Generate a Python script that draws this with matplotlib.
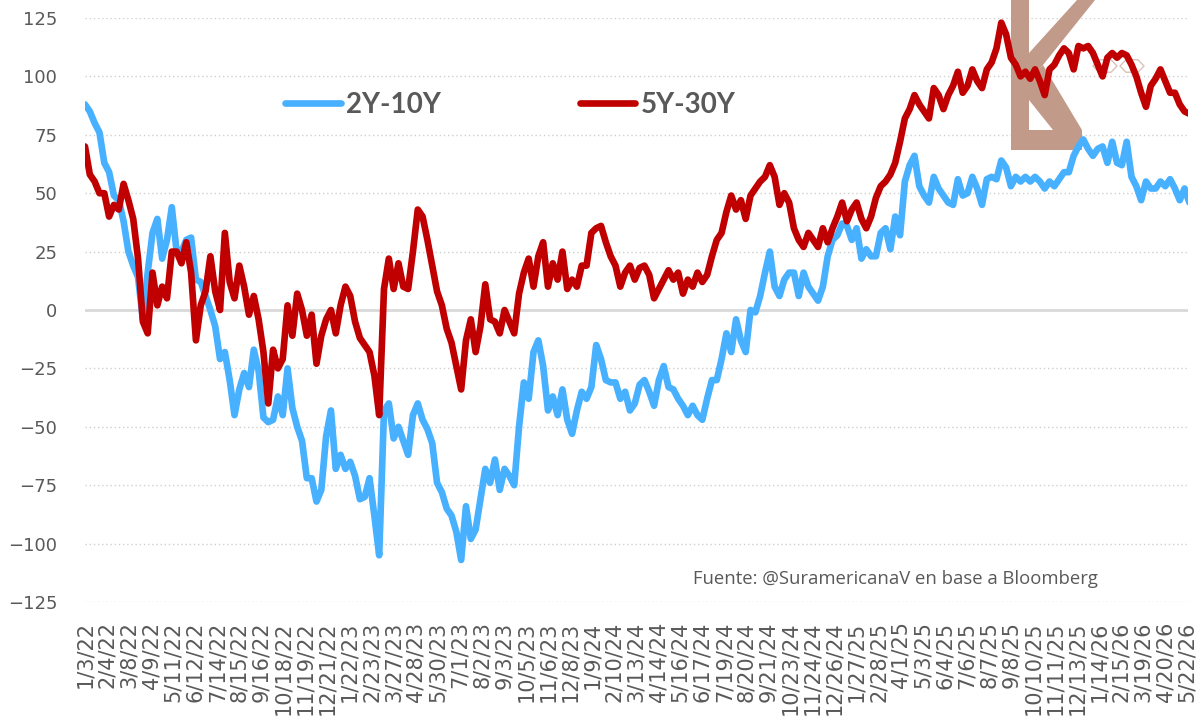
import matplotlib
matplotlib.use("Agg")
import matplotlib.pyplot as plt
import matplotlib.dates as mdates
from matplotlib.patches import Polygon, RegularPolygon
import numpy as np
import pandas as pd

# weekly readings (bp), starting Mon 1/3/22
start_date = "2022-01-03"
spread_2y10y = [
    88, 85, 80, 76, 63, 59, 49, 47, 38, 25,
    19, 14, -4, 16, 33, 39, 22, 30, 44, 25,
    25, 30, 31, 13, 12, 6, 0, -7, -21, -18,
    -30, -45, -34, -27, -33, -17, -26, -46, -48, -47,
    -37, -45, -25, -42, -50, -56, -72, -72, -82, -77,
    -54, -43, -68, -62, -68, -65, -71, -81, -80, -72,
    -88, -105, -43, -40, -55, -50, -56, -62, -45, -40,
    -47, -51, -57, -74, -78, -85, -88, -95, -107, -84,
    -98, -94, -81, -68, -74, -64, -77, -68, -71, -75,
    -50, -31, -38, -18, -13, -24, -43, -37, -45, -34,
    -47, -53, -43, -35, -38, -33, -15, -21, -30, -31,
    -31, -38, -35, -43, -40, -32, -30, -35, -41, -30,
    -24, -33, -34, -38, -41, -45, -41, -45, -47, -38,
    -30, -30, -21, -10, -18, -4, -13, -18, 0, -1,
    6, 16, 25, 10, 6, 13, 16, 16, 6, 16,
    10, 7, 4, 10, 23, 30, 32, 37, 36, 30,
    35, 22, 26, 23, 23, 33, 35, 26, 40, 32,
    55, 62, 66, 53, 49, 46, 57, 52, 49, 46,
    45, 56, 49, 50, 57, 52, 45, 56, 57, 56,
    64, 61, 53, 57, 55, 57, 55, 57, 55, 52,
    55, 53, 56, 59, 59, 66, 70, 73, 69, 66,
    69, 70, 63, 72, 63, 62, 72, 57, 53, 47,
    55, 52, 52, 55, 53, 56, 52, 47, 52, 46,
]
spread_5y30y = [
    70, 58, 55, 50, 50, 40, 45, 43, 54, 47,
    39, 22, -5, -10, 16, 2, 10, 5, 25, 25,
    20, 29, 16, -13, 2, 8, 23, 8, 0, 33,
    12, 5, 19, 10, -2, 6, -4, -18, -40, -17,
    -25, -21, 2, -11, 7, 0, -11, -2, -23, -11,
    -4, 0, -10, 2, 10, 6, -5, -12, -15, -18,
    -28, -45, 9, 22, 9, 20, 10, 9, 25, 43,
    40, 30, 19, 8, 2, -8, -14, -24, -34, -13,
    -4, -18, -7, 11, -4, -5, -10, 0, -5, -10,
    7, 16, 22, 10, 23, 29, 10, 20, 13, 25,
    9, 13, 10, 19, 19, 33, 35, 36, 29, 23,
    19, 10, 16, 19, 13, 18, 19, 15, 5, 9,
    13, 17, 13, 16, 7, 13, 10, 16, 12, 15,
    23, 30, 33, 42, 49, 43, 47, 39, 49, 52,
    55, 57, 62, 57, 45, 50, 46, 35, 30, 27,
    33, 30, 27, 35, 29, 35, 40, 46, 38, 43,
    46, 39, 35, 40, 48, 53, 55, 58, 63, 72,
    82, 86, 92, 88, 85, 82, 95, 92, 86, 92,
    96, 102, 93, 96, 103, 98, 95, 103, 106, 112,
    123, 118, 108, 105, 100, 102, 99, 103, 98, 92,
    103, 105, 109, 112, 110, 103, 113, 112, 113, 110,
    105, 100, 108, 110, 108, 110, 109, 105, 100, 93,
    87, 96, 99, 103, 98, 93, 93, 88, 85, 84,
]
y_ticks = [-125, -100, -75, -50, -25, 0, 25, 50, 75, 100, 125]
source = "Fuente: @SuramericanaV en base a Bloomberg"

dates = pd.date_range(start_date, periods=len(spread_2y10y), freq="7D")
tick_dates = pd.date_range(start_date, "2026-05-22", freq="32D")

BLUE = "#47B0FF"
RED = "#C00000"
GREY = "#595959"
LOGO = "#C29A8A"

W, H = 1197, 720
fig = plt.figure(figsize=(W / 100, H / 100), dpi=100)
ax = fig.add_axes([85 / W, 118 / H, 1103 / W, 584 / H])


def px(x, y):
    # pixel (from top-left) -> figure fraction
    return (x / W, 1 - y / H)


# watermark logo
logo_shapes = [
    [(1011, 0), (1029, 0), (1029, 150), (1011, 150)],
    [(1029, 53), (1077, 0), (1095, 0), (1043, 65), (1029, 77)],
    [(1029, 77), (1043, 65), (1082, 130), (1053, 130), (1029, 100)],
    [(1011, 130), (1082, 130), (1082, 150), (1011, 150)],
]
for pts in logo_shapes:
    ax.add_patch(Polygon([px(*p) for p in pts], closed=True, transform=fig.transFigure,
                         facecolor=LOGO, edgecolor="none", zorder=1, clip_on=False))
for cx in (1105, 1132):
    ax.add_patch(RegularPolygon(px(cx, 66), 6, radius=12 / W, orientation=np.pi / 6,
                                transform=fig.transFigure, facecolor="none",
                                edgecolor=LOGO, lw=1, alpha=0.6, zorder=1, clip_on=False))

ax.plot(dates, spread_2y10y, color=BLUE, lw=4.8, solid_joinstyle="round",
        solid_capstyle="round", zorder=3, label="2Y-10Y")
ax.plot(dates, spread_5y30y, color=RED, lw=4.8, solid_joinstyle="round",
        solid_capstyle="round", zorder=4, label="5Y-30Y")

ax.set_ylim(-125, 125)
ax.set_xlim(pd.Timestamp(start_date), pd.Timestamp("2026-05-23"))
ax.set_yticks(y_ticks)
ax.set_xticks(tick_dates)
ax.xaxis.set_major_formatter(mdates.DateFormatter("%-m/%-d/%y"))
ax.tick_params(axis="y", length=0, pad=20, labelsize=13, labelcolor=GREY)
ax.tick_params(axis="x", length=0, pad=14, labelsize=15, labelcolor=GREY, rotation=90)
for lab in ax.get_xticklabels():
    lab.set_va("top")

ax.set_axisbelow(True)
ax.yaxis.grid(True, color="#D0D0D0", lw=1, linestyle=(0, (1, 2)))
ax.axhline(0, color="#D9D9D9", lw=2, zorder=2)
for s in ax.spines.values():
    s.set_visible(False)

ax.legend(loc="center left", bbox_to_anchor=((285 - 85) / 1103, (602 - 105) / 584),
          ncol=2, frameon=False, borderpad=0, borderaxespad=0,
          handlelength=2.0, handletextpad=0.2, columnspacing=5.0,
          prop={"family": "Lato", "weight": "bold", "size": 20},
          labelcolor=GREY)

fig.text(693 / W, 1 - 579 / H, source, family="Open Sans", fontsize=13.3,
         color=GREY, ha="left", va="center")

fig.savefig("out.png", dpi=100)
